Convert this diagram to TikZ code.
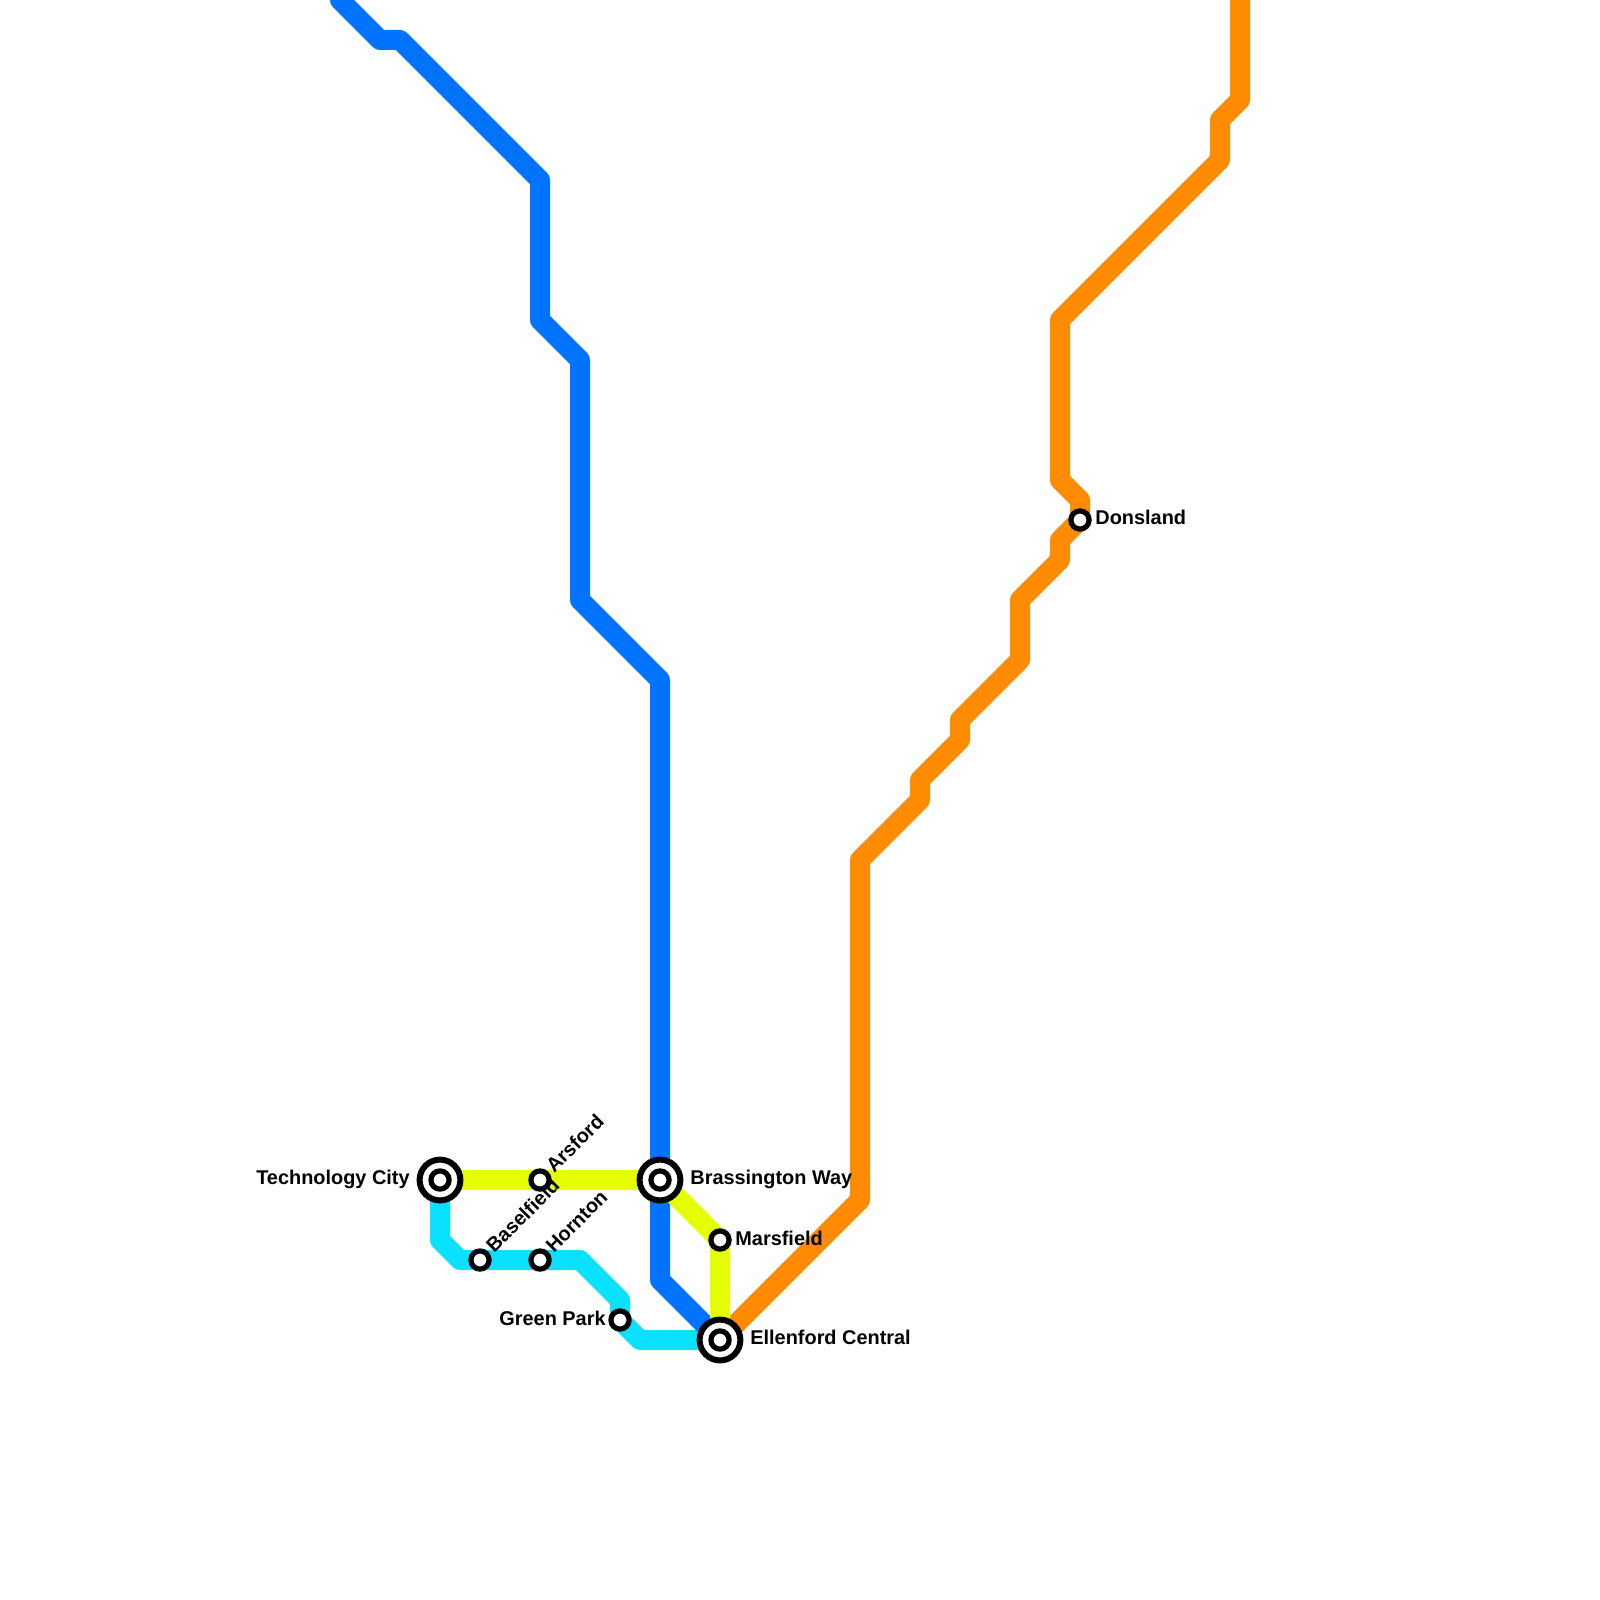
\documentclass[tikz,border=0pt]{standalone}
\usepackage{fontspec}
\setmainfont{Liberation Sans}
\usetikzlibrary{backgrounds}
\definecolor{lblue}{HTML}{0073FF}
\definecolor{lcyan}{HTML}{0AE0FF}
\definecolor{lyellow}{HTML}{E5FF00}
\definecolor{lorange}{HTML}{FF8C00}
\tikzset{
  metro/.style={line width=10pt,line join=round,line cap=round},
  stopdot/.style={circle,draw=black,fill=white,line width=2.6pt,minimum size=9.1pt,inner sep=0pt},
  hubring/.style={circle,draw=black,fill=white,line width=3pt,minimum size=20.4pt,inner sep=0pt},
  lab/.style={font=\bfseries\fontsize{9.95pt}{11pt}\selectfont,text=black,inner sep=0pt},
  labr/.style={lab,anchor=west},
  labl/.style={lab,anchor=east},
  labd/.style={lab,anchor=west,rotate=45},
}
\begin{document}
\begin{tikzpicture}[x=0.5pt,y=-0.5pt]
\useasboundingbox (0,0) rectangle (1600,1600);
% interchange rings
\node[hubring] (tcr) at (440,1180) {};
\node[hubring] (bwr) at (660,1180) {};
\node[hubring] (ecr) at (720,1340) {};
% stations
\node[stopdot] (tc) at (440,1180) {};
\node[stopdot] (bw) at (660,1180) {};
\node[stopdot] (ec) at (720,1340) {};
\node[stopdot] (ar) at (540,1180) {};
\node[stopdot] (ma) at (720,1240) {};
\node[stopdot] (ba) at (480,1260) {};
\node[stopdot] (ho) at (540,1260) {};
\node[stopdot] (gp) at (620,1320) {};
\node[stopdot] (do) at (1080,520) {};
% lines
\begin{scope}[on background layer]
\draw[metro,lorange] (1240,-10) -- (1240,100) -- (1220,120) -- (1220,160) -- (1060,320) -- (1060,480) -- (1080,500) -- (do.center) -- (1060,540) -- (1060,560) -- (1020,600) -- (1020,660) -- (960,720) -- (960,740) -- (920,780) -- (920,800) -- (860,860) -- (860,1200) -- (ec.center);
\draw[metro,lcyan] (tc.center) -- (440,1240) -- (460,1260) -- (ba.center) -- (ho.center) -- (580,1260) -- (620,1300) -- (gp.center) -- (640,1340) -- (ec.center);
\draw[metro,lblue] (340,0) -- (380,40) -- (400,40) -- (540,180) -- (540,320) -- (580,360) -- (580,600) -- (660,680) -- (bw.center) -- (660,1280) -- (ec.center);
\draw[metro,lyellow] (tc.center) -- (ar.center) -- (bw.center) -- (ma.center) -- (ec.center);
\end{scope}
% labels
\node[labl] (ltc) at (410,1179) {Technology City};
\node[labr] (lbw) at (690,1179.5) {Brassington Way};
\node[labr] (lec) at (750,1337) {Ellenford Central};
\node[labr] (lma) at (735,1238) {Marsfield};
\node[labr] (ldo) at (1095,517) {Donsland};
\node[labl] (lgp) at (606,1318) {Green Park};
\node[labd] (lar) at (549,1169) {Arsford};
\node[labd] (lba) at (489,1249) {Baselfield};
\node[labd] (lho) at (549,1249) {Hornton};
\end{tikzpicture}
\end{document}
